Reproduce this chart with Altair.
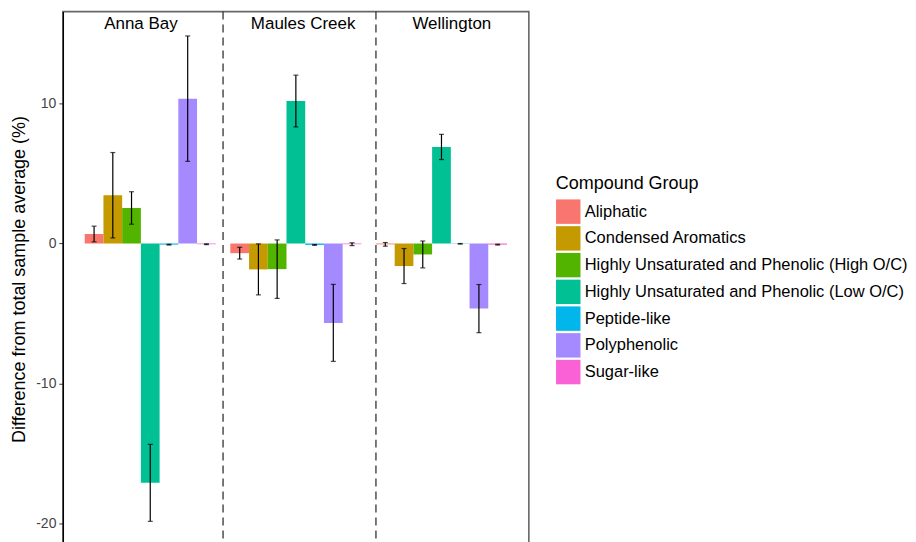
import altair as alt
import pandas as pd

sites = ["Anna Bay", "Maules Creek", "Wellington"]
groups = [
    "Aliphatic",
    "Condensed Aromatics",
    "Highly Unsaturated and Phenolic (High O/C)",
    "Highly Unsaturated and Phenolic (Low O/C)",
    "Peptide-like",
    "Polyphenolic",
    "Sugar-like",
]
palette = ["#F8766D", "#C49A00", "#53B400", "#00C094", "#00B6EB", "#A58AFF", "#FB61D7"]

anna_bay_mean = [0.68, 3.45, 2.54, -17.10, -0.08, 10.35, -0.05]
anna_bay_err = [0.56, 3.05, 1.16, 2.75, 0.03, 4.48, 0.03]
maules_creek_mean = [-0.69, -1.85, -1.83, 10.18, -0.10, -5.67, -0.05]
maules_creek_err = [0.42, 1.82, 2.09, 1.85, 0.03, 2.75, 0.10]
wellington_mean = [-0.06, -1.61, -0.78, 6.90, -0.02, -4.65, -0.08]
wellington_err = [0.13, 1.25, 0.96, 0.90, 0.02, 1.72, 0.03]

y_ticks = [-20, -10, 0, 10]
y_domain = [-21.64, 16.57]

means = [anna_bay_mean, maules_creek_mean, wellington_mean]
errs = [anna_bay_err, maules_creek_err, wellington_err]
rows = []
for s, m_list, e_list in zip(sites, means, errs):
    for g, m, e in zip(groups, m_list, e_list):
        rows.append({"site": s, "group": g, "mean": m, "lo": m - e, "hi": m + e})
df = pd.DataFrame(rows)

FONT = "Liberation Sans"

x_scale = alt.Scale(domain=sites, paddingInner=0, paddingOuter=0.1)
off_scale = alt.Scale(domain=groups, paddingInner=0, paddingOuter=0.389)
y_scale = alt.Scale(domain=y_domain, nice=False, zero=False)

x_enc = alt.X("site:N", scale=x_scale, axis=None, sort=sites)
off_enc = alt.XOffset("group:N", scale=off_scale, sort=groups)

base = alt.Chart(df)

bars = base.mark_bar().encode(
    x=x_enc,
    xOffset=off_enc,
    y=alt.Y(
        "mean:Q",
        scale=y_scale,
        title="Difference from total sample average (%)",
        axis=alt.Axis(
            values=y_ticks,
            grid=False,
            tickSize=4,
            tickColor="#333",
            tickWidth=1,
            domainColor="black",
            domainWidth=1.3,
            labelFontSize=14,
            labelColor="#444",
            labelPadding=3,
            labelExpr="'' + datum.value",
            titleFontSize=18,
            titleFontWeight="normal",
            titleColor="black",
            titlePadding=7,
        ),
    ),
    color=alt.Color(
        "group:N",
        scale=alt.Scale(domain=groups, range=palette),
        sort=groups,
        legend=alt.Legend(
            title="Compound Group",
            orient="none",
            legendX=494,
            legendY=164,
            symbolType="square",
            symbolSize=600,
            symbolStrokeWidth=0,
            symbolOpacity=1,
            labelFontSize=16.5,
            labelOffset=4,
            labelLimit=500,
            rowPadding=1.8,
            titleFontSize=18,
            titleFontWeight="normal",
            titlePadding=6,
            titleColor="black",
            labelColor="black",
        ),
    ),
)

err_rule = base.mark_rule(color="black", strokeWidth=1.2).encode(
    x=x_enc, xOffset=off_enc, y=alt.Y("lo:Q", scale=y_scale), y2="hi:Q"
)
cap_lo = base.mark_tick(orient="horizontal", size=5, thickness=1.2, color="black").encode(
    x=x_enc, xOffset=off_enc, y=alt.Y("lo:Q", scale=y_scale)
)
cap_hi = base.mark_tick(orient="horizontal", size=5, thickness=1.2, color="black").encode(
    x=x_enc, xOffset=off_enc, y=alt.Y("hi:Q", scale=y_scale)
)

divider_sites = ["Maules Creek", "Wellington"]
divider_band_pos = [0.0, 0.05]
dividers = []
for s, bp in zip(divider_sites, divider_band_pos):
    dividers.append(
        alt.Chart(pd.DataFrame({"site": [s]}))
        .mark_rule(color="#333", strokeWidth=1.3, strokeDash=[8, 5])
        .encode(x=alt.X("site:N", scale=x_scale, axis=None, bandPosition=bp))
    )

label_band_pos = [0.436, 0.55, 0.571]
label_value = 15.3
labels = []
for s, bp in zip(sites, label_band_pos):
    labels.append(
        alt.Chart(pd.DataFrame({"site": [s], "v": [label_value]}))
        .mark_text(fontSize=17, font=FONT, color="black", baseline="alphabetic", align="center")
        .encode(
            x=alt.X("site:N", scale=x_scale, axis=None, bandPosition=bp),
            y=alt.Y("v:Q", scale=y_scale),
            text="site:N",
        )
    )

chart = (
    alt.layer(bars, err_rule, cap_lo, cap_hi, *dividers, *labels)
    .properties(
        width=467,
        height=536,
        padding={"left": 55, "top": 3, "right": 380, "bottom": 0},
        autosize=alt.AutoSizeParams(type="none"),
        background="white",
    )
    .configure(font=FONT)
    .configure_view(stroke="#666", strokeWidth=1.6)
)

chart.save("out.html", embed_options={"renderer": "svg", "actions": False})
